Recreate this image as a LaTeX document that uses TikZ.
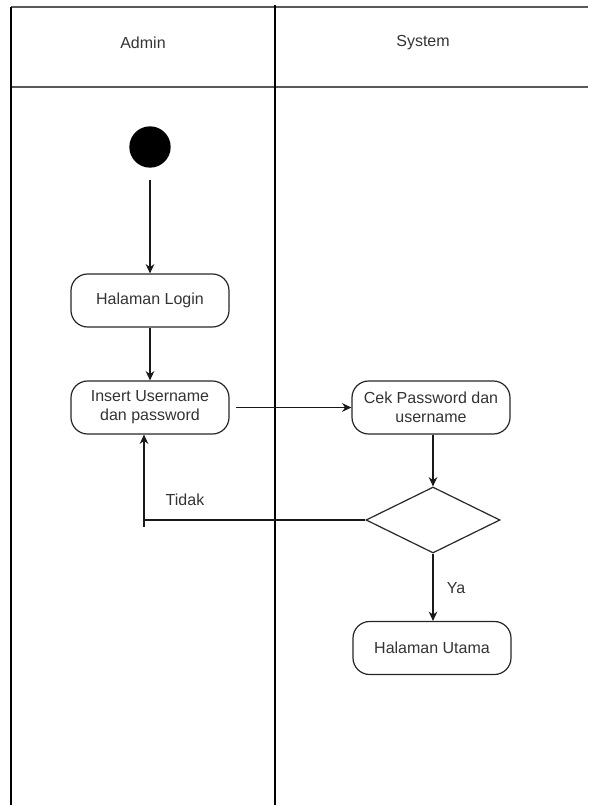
\documentclass[tikz,border=0pt]{standalone}
\usepackage{fontspec}
\setmainfont{Liberation Sans}
\usetikzlibrary{shapes.geometric,arrows.meta}
\tikzset{
  act/.style={draw=black!85, line width=0.9pt, rounded corners=12.5pt, minimum width=118.5pt, minimum height=39.75pt, inner sep=1pt, align=center, text=black!80, font=\fontsize{12}{14.25}\selectfont},
  lbl/.style={text=black!80, font=\fontsize{12}{14.25}\selectfont},
  conn/.style={draw=black!90, line width=0.8pt},
  arr/.style={conn, -{Stealth[length=7pt,width=6.5pt]}},
  lane/.style={draw=black, line width=1.2pt},
  hdr/.style={draw=black!65, line width=1.6pt}
}
\begin{document}
\begin{tikzpicture}[x=0.75pt,y=-0.75pt]
\useasboundingbox (0,0) rectangle (588,805);
% lanes
\draw[hdr] (11,7) -- (588,7);
\draw[hdr] (11,87) -- (588,87);
\draw[lane] (11,7) -- (11,805);
\draw[lane] (275,5) -- (275,805);
\node[lbl] (admin) at (143,43) {Admin};
\node[lbl] (system) at (423,43) {System};
% nodes
\node[circle, fill=black, minimum size=31pt, inner sep=0] (start) at (150,147) {};
\node[act] (login) at (150,300.5) {Halaman Login};
\node[act] (ins) at (150,407.5) {Insert Username\\dan password};
\node[act] (cek) at (431,407.5) {Cek Password dan\\username};
\node[diamond, draw=black!85, line width=0.9pt, minimum width=100.5pt, minimum height=49.5pt, inner sep=0] (dec) at (433,520) {};
\node[act] (utama) at (432,648) {Halaman Utama};
\coordinate (t1) at (144,520);
\coordinate (t2) at (144,527);
% connectors
\draw[arr, shorten <=9pt] (start) -- (login);
\draw[arr] (login) -- (ins);
\draw[arr, shorten <=4.5pt] (ins) -- (cek);
\draw[arr] (cek.south -| dec.north) -- (dec.north);
\draw[conn] (dec.west) -- (t1);
\draw[arr] (t2) -- (t2 |- ins.south);
\draw[arr] (dec.south) -- (dec.south |- utama.north);
\node[lbl] (tidak) at (185,500) {Tidak};
\node[lbl] (ya) at (456,588) {Ya};
\end{tikzpicture}
\end{document}
